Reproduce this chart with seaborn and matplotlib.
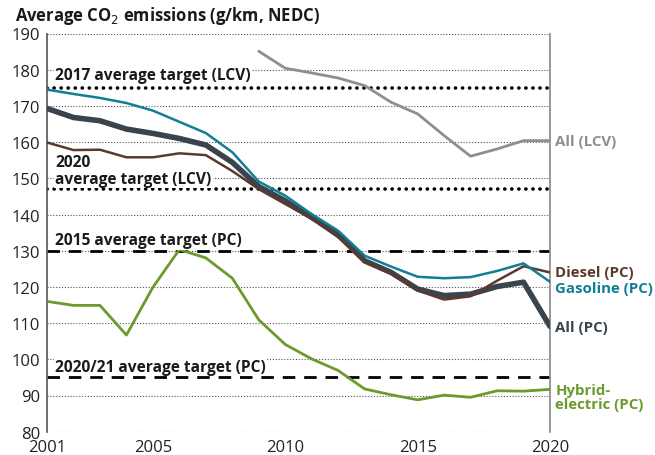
import numpy as np
import pandas as pd
import matplotlib
matplotlib.use("Agg")
import matplotlib.pyplot as plt
import seaborn as sns
from matplotlib.ticker import MultipleLocator, FixedLocator

years = list(range(2001, 2021))
gasoline_pc = [174.5, 173.3, 172.2, 170.8, 168.7, 165.6, 162.5, 157.2, 149.1, 145.2,
               140.1, 135.5, 128.6, 125.6, 122.8, 122.4, 122.7, 124.4, 126.5, 121.4]
diesel_pc = [159.9, 157.8, 157.9, 155.8, 155.8, 156.9, 156.4, 152.0, 147.0, 142.9,
             138.8, 133.7, 126.8, 123.6, 119.0, 116.5, 117.4, 121.7, 125.7, 124.0]
all_pc = [169.3, 166.8, 165.9, 163.6, 162.4, 161.0, 159.2, 154.4, 147.7, 143.8,
          139.2, 134.6, 127.2, 124.0, 119.4, 117.6, 118.0, 120.1, 121.3, 109.1]
hybrid_pc = [116.0, 114.9, 114.9, 106.7, 119.9, 130.3, 128.0, 122.4, 110.9, 104.1,
             100.1, 96.9, 91.8, 90.2, 88.8, 90.1, 89.5, 91.3, 91.2, 91.7]
lcv_years = list(range(2009, 2021))
all_lcv = [185.1, 180.4, 179.1, 177.7, 175.6, 171.0, 167.8, 161.8, 156.1, 158.1, 160.4, 160.4]

target_lcv_2017 = 175
target_lcv_2020 = 147
target_pc_2015 = 130
target_pc_2021 = 95

sns.set_theme(style="white")
plt.rcParams['font.family'] = ['Open Sans', 'DejaVu Sans']

fig = plt.figure(figsize=(6.55, 4.56), dpi=100)
ax = fig.add_axes([47/655, 1-432.7/456, (550-47)/655, (432.7-34.5)/456])

c_gas = "#107f96"
c_die = "#5b3a2e"
c_all = "#3b434c"
c_hyb = "#6b9a2e"
c_lcv = "#8e8e8e"

# gridlines
for v in range(80, 191, 10):
    ax.axhline(v, color="#555555", lw=0.8, ls=(0, (1, 1.6)), zorder=0)

# targets
for v in [target_lcv_2017, target_lcv_2020]:
    ax.axhline(v, color="black", lw=2.6, ls=(0, (0.05, 1.9)), dash_capstyle="round", zorder=1)
for v in [target_pc_2015, target_pc_2021]:
    ax.axhline(v, color="black", lw=2.0, ls=(0, (4.5, 3.2)), zorder=1)

sns.lineplot(x=lcv_years, y=all_lcv, color=c_lcv, lw=2.0, ax=ax, zorder=3)
sns.lineplot(x=years, y=hybrid_pc, color=c_hyb, lw=2.0, ax=ax, zorder=3)
sns.lineplot(x=years, y=diesel_pc, color=c_die, lw=1.8, ax=ax, zorder=4)
sns.lineplot(x=years, y=all_pc, color=c_all, lw=4.0, ax=ax, zorder=3.5)
sns.lineplot(x=years, y=gasoline_pc, color=c_gas, lw=1.8, ax=ax, zorder=4)

ax.set_xlim(2001, 2020)
ax.set_ylim(80, 190)
ax.yaxis.set_major_locator(MultipleLocator(10))
ax.xaxis.set_major_locator(FixedLocator([2001, 2005, 2010, 2015, 2020]))
ax.xaxis.set_minor_locator(MultipleLocator(1))
ax.tick_params(axis="x", which="major", direction="in", length=8, width=1.0, color="#222222",
               labelsize=12, labelcolor="#222222", pad=5.5)
ax.tick_params(axis="x", which="minor", direction="in", length=5, width=0.9, color="#222222")
ax.tick_params(axis="y", which="both", length=0, labelsize=12, labelcolor="#222222", pad=5)
ax.set_xlabel("")
ax.set_ylabel("")

for s in ["top", "bottom"]:
    ax.spines[s].set_visible(False)
ax.spines["left"].set_color("#555555")
ax.spines["left"].set_linewidth(1.2)
ax.spines["right"].set_color("#888888")
ax.spines["right"].set_linewidth(1.2)

bbox = dict(facecolor="white", edgecolor="none", pad=1.0)
tkw = dict(fontsize=11.2, fontweight="bold", color="#1a1a1a", ha="left", va="center", zorder=5)
ax.text(2001.3, 178.4, "2017 average target (LCV)", bbox=bbox, **tkw)
ax.text(2001.3, 154.6, "2020", bbox=bbox, **tkw)
ax.text(2001.3, 149.9, "average target (LCV)", bbox=bbox, **tkw)
ax.text(2001.3, 132.9, "2015 average target (PC)", bbox=bbox, **tkw)
ax.text(2001.3, 98.0, "2020/21 average target (PC)", bbox=bbox, **tkw)

rkw = dict(fontsize=10.8, fontweight="bold", ha="left", va="center", clip_on=False)
ax.text(2020.2, 160.3, "All (LCV)", color=c_lcv, **rkw)
ax.text(2020.2, 124.2, "Diesel (PC)", color=c_die, **rkw)
ax.text(2020.2, 119.6, "Gasoline (PC)", color=c_gas, **rkw)
ax.text(2020.2, 108.9, "All (PC)", color=c_all, **rkw)
ax.text(2020.2, 89.6, "Hybrid-\nelectric (PC)", color=c_hyb, linespacing=1.0, **rkw)

fig.text(15/655, 1-16/456, "Average CO$_2$ emissions (g/km, NEDC)", fontsize=12,
         fontweight="bold", color="#1a1a1a", ha="left", va="center")

fig.savefig("out.png", dpi=100)
